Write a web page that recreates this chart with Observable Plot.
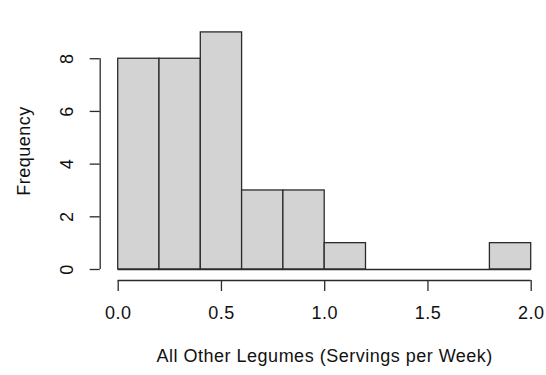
<!DOCTYPE html>
<html>
<head>
<meta charset="utf-8">
<script src="https://cdn.jsdelivr.net/npm/d3@7"></script>
<script src="https://cdn.jsdelivr.net/npm/@observablehq/plot@0.6"></script>
<style>
  html, body { margin: 0; padding: 0; background: #fff; }
  #chart svg { display: block; }
</style>
</head>
<body>
<div id="chart"></div>
<script>
const binStart = [0.0, 0.2, 0.4, 0.6, 0.8, 1.0, 1.2, 1.4, 1.6, 1.8];
const binEnd   = [0.2, 0.4, 0.6, 0.8, 1.0, 1.2, 1.4, 1.6, 1.8, 2.0];
const counts   = [8, 8, 9, 3, 3, 1, 0, 0, 0, 1];
const xTicks = [0, 0.5, 1.0, 1.5, 2.0];
const xTickLabels = ["0.0", "0.5", "1.0", "1.5", "2.0"];
const yTicks = [0, 2, 4, 6, 8];
const yTickLabels = ["0", "2", "4", "6", "8"];
const xLabel = "All Other Legumes (Servings per Week)";
const yLabel = "Frequency";

const bins = binStart.map((s, i) => ({x1: s, x2: binEnd[i], y: counts[i]}));
const xt = xTicks.map((v, i) => ({v, label: xTickLabels[i]}));
const yt = yTicks.map((v, i) => ({v, label: yTickLabels[i]}));

const ink = "#111";
const line = "#2b2b2b";
const fs = 18;

const chart = Plot.plot({
  width: 546,
  height: 375,
  marginLeft: 117.7,
  marginRight: 15.3,
  marginTop: 31.9,
  marginBottom: 106,
  style: {fontFamily: "'Liberation Sans', Arial, sans-serif", fontSize: fs + "px", color: ink, background: "#fff", letterSpacing: "0.5px"},
  x: {domain: [0, 2], axis: null},
  y: {domain: [0, 9], axis: null},
  marks: [
    Plot.rectY(bins, {x1: "x1", x2: "x2", y: "y", fill: "#d3d3d3", stroke: line, strokeWidth: 1.3}),
    Plot.ruleY([0], {x1: binStart[0], x2: binEnd[binEnd.length - 1], stroke: line, strokeWidth: 1.3}),
    // x axis
    Plot.ruleY([0], {x1: xTicks[0], x2: xTicks[xTicks.length - 1], dy: 11, stroke: line, strokeWidth: 1.3}),
    Plot.axisX({ticks: xTicks, tickSize: 11, dy: 11, tickFormat: () => "", stroke: line, strokeWidth: 1.3}),
    Plot.text(xt, {x: "v", text: "label", frameAnchor: "bottom", dy: 49.2, fill: ink, fontSize: fs}),
    Plot.text([xLabel], {frameAnchor: "bottom", dy: 92.5, fill: ink, fontSize: fs}),
    // y axis
    Plot.ruleX([0], {y1: yTicks[0], y2: yTicks[yTicks.length - 1], dx: -18, stroke: line, strokeWidth: 1.3}),
    Plot.axisY({ticks: yTicks, tickSize: 10, dx: -18, tickFormat: () => "", stroke: line, strokeWidth: 1.3}),
    Plot.text(yt, {y: "v", text: "label", frameAnchor: "left", textAnchor: "middle", dx: -50.5, rotate: -90, fill: ink, fontSize: fs}),
    Plot.text([yLabel], {frameAnchor: "left", textAnchor: "middle", dx: -93.5, rotate: -90, fill: ink, fontSize: fs})
  ]
});
document.getElementById("chart").appendChild(chart);
</script>
</body>
</html>
